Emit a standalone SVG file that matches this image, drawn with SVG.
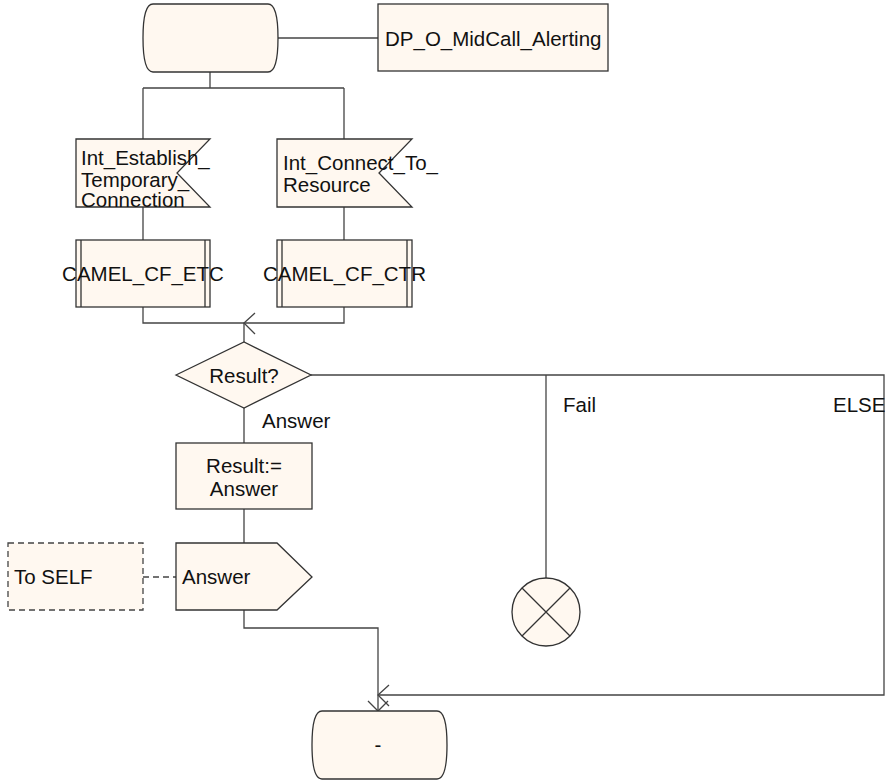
<svg xmlns="http://www.w3.org/2000/svg" width="885" height="783" viewBox="0 0 885 783">
  <style>
    .shape { fill: #fff8f0; stroke: #333; stroke-width: 1.3; }
    .dashed { fill: #fff8f0; stroke: #444; stroke-width: 1.3; stroke-dasharray: 6 4; }
    .line { fill: none; stroke: #444; stroke-width: 1.3; }
    .dline { fill: none; stroke: #444; stroke-width: 1.3; stroke-dasharray: 6 4; }
    .inner { fill: none; stroke: #333; stroke-width: 1.3; }
    text { font-family: "Liberation Sans", Arial, sans-serif; font-size: 20.5px; fill: #111; }
    .c { text-anchor: middle; }
  </style>
  <rect width="885" height="783" fill="#ffffff"/>

  <!-- connectors -->
  <g id="connectors">
    <path class="line" d="M378,38 H278"/>
    <path class="line" d="M210,72 V88 M143,88 H344 M143,88 V139 M344,88 V139"/>
    <path class="line" d="M143,207 V240 M344,207 V240"/>
    <path class="line" d="M143,307 V323 H344 V307 M244,323 V342"/>
    <polyline class="line" points="255,313 244,323 255,334"/>
    <path class="line" d="M311,375 H884 V695 H378"/>
    <polyline class="line" points="389,685 378,695 389,706"/>
    <path class="line" d="M546,375 V578"/>
    <path class="line" d="M244,408 V443 M244,509 V543"/>
    <path class="dline" d="M143,577 H176"/>
    <path class="line" d="M244,610 V628 H378 V711"/>
    <polyline class="line" points="368,701 378,711 388,701"/>
  </g>

  <!-- start state -->
  <g id="start">
    <path class="shape" d="M153,4 H268 Q278,4 278,38 Q278,72 268,72 H153 Q143,72 143,38 Q143,4 153,4 Z"/>
  </g>

  <!-- comment box -->
  <g id="comment">
    <rect class="shape" x="378" y="4" width="230" height="67"/>
    <text x="385" y="46">DP_O_MidCall_Alerting</text>
  </g>

  <!-- input signals -->
  <g id="in_etc">
    <polygon class="shape" points="76,139 210,139 177,173 210,207 76,207"/>
    <text x="81" y="165">Int_Establish_</text>
    <text x="81" y="187">Temporary_</text>
    <text x="81" y="207">Connection</text>
  </g>
  <g id="in_ctr">
    <polygon class="shape" points="277,139 412,139 379,173 412,207 277,207"/>
    <text x="283" y="170">Int_Connect_To_</text>
    <text x="283" y="192">Resource</text>
  </g>

  <!-- procedure calls -->
  <g id="proc_etc">
    <rect class="shape" x="76" y="240" width="134" height="67"/>
    <path class="inner" d="M81,240 V307 M205,240 V307"/>
    <text class="c" x="143" y="281">CAMEL_CF_ETC</text>
  </g>
  <g id="proc_ctr">
    <rect class="shape" x="277" y="240" width="135" height="67"/>
    <path class="inner" d="M282,240 V307 M407,240 V307"/>
    <text class="c" x="344.5" y="281">CAMEL_CF_CTR</text>
  </g>

  <!-- decision -->
  <g id="decision">
    <polygon class="shape" points="176,375 244,342 311,375 244,408"/>
    <text class="c" x="244" y="383">Result?</text>
  </g>
  <g id="labels">
    <text x="262" y="428">Answer</text>
    <text x="563" y="412">Fail</text>
    <text x="833" y="412">ELSE</text>
  </g>

  <!-- task -->
  <g id="task">
    <rect class="shape" x="176" y="443" width="136" height="66"/>
    <text class="c" x="244" y="473">Result:=</text>
    <text class="c" x="244" y="496">Answer</text>
  </g>

  <!-- output signal -->
  <g id="out_answer">
    <polygon class="shape" points="176,543 277,543 312,577 277,610 176,610"/>
    <text x="182" y="584">Answer</text>
  </g>
  <g id="to_self">
    <rect class="dashed" x="8" y="543" width="135" height="67"/>
    <text x="14" y="584">To SELF</text>
  </g>

  <!-- stop -->
  <g id="stop">
    <circle class="shape" cx="546" cy="612" r="34"/>
    <path class="inner" d="M522,588 L570,636 M570,588 L522,636"/>
  </g>

  <!-- next state -->
  <g id="next_state">
    <path class="shape" d="M322,711 H437 Q447,711 447,745 Q447,779 437,779 H322 Q312,779 312,745 Q312,711 322,711 Z"/>
    <text class="c" x="378" y="752">-</text>
  </g>
</svg>
